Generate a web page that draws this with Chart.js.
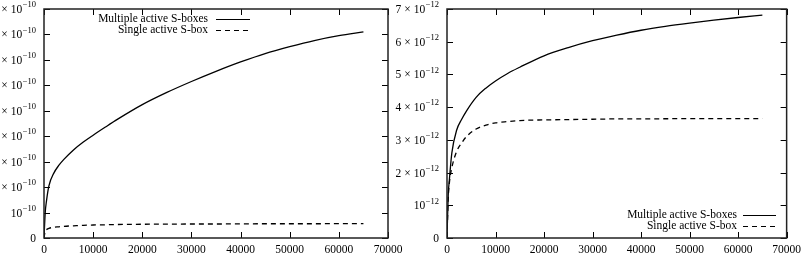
<!DOCTYPE html>
<html><head><meta charset="utf-8">
<script src="https://cdn.jsdelivr.net/npm/chart.js@4"></script>
<style>
body{margin:0;background:#fff;width:806px;height:268px;overflow:hidden;position:relative}
#w1{position:absolute;left:0;top:0;width:420px;height:268px}
#w2{position:absolute;left:390px;top:0;width:416px;height:268px}
</style></head><body>
<div id="w1"><canvas id="c1"></canvas></div>
<div id="w2"><canvas id="c2"></canvas></div>
<script>
// ---- data ----
const xPoints = [0, 250, 500, 1000, 2000, 3000, 4000, 6000, 8000, 10000, 12500, 15000, 20000, 25000, 30000, 35000, 40000, 45000, 50000, 55000, 60000, 65000];
// left chart, units of 1e-10
const leftMultiple = [0, 1.0, 1.45, 2.05, 2.55, 2.85, 3.08, 3.46, 3.77, 4.04, 4.36, 4.67, 5.24, 5.72, 6.15, 6.55, 6.92, 7.25, 7.52, 7.76, 7.95, 8.1];
const leftSingle = [0, 0.28, 0.33, 0.38, 0.42, 0.44, 0.46, 0.48, 0.5, 0.51, 0.52, 0.53, 0.54, 0.545, 0.55, 0.55, 0.555, 0.56, 0.56, 0.56, 0.565, 0.565];
// right chart, units of 1e-12
const rightMultiple = [0, 1.3, 1.8, 2.6, 3.3, 3.62, 3.88, 4.3, 4.58, 4.8, 5.03, 5.22, 5.57, 5.82, 6.03, 6.2, 6.35, 6.47, 6.57, 6.66, 6.74, 6.81];
const rightSingle = [0, 1.2, 1.7, 2.15, 2.65, 2.9, 3.1, 3.33, 3.45, 3.52, 3.56, 3.59, 3.61, 3.62, 3.63, 3.64, 3.64, 3.645, 3.65, 3.65, 3.65, 3.65];
const seriesNames = ["Multiple active S-boxes", "Single active S-box"];
const xTicks = [0, 10000, 20000, 30000, 40000, 50000, 60000, 70000];
const leftExp = -10, leftYMax = 9;
const rightExp = -12, rightYMax = 7;

const FONT = "'Liberation Serif', 'DejaVu Serif', serif";
const FS = 11.5, SUPFS = 8.5;

function pts(xs, ys, exp){ return xs.map((x,i)=>({x:x, y:ys[i]*Math.pow(10,exp)})); }

const frame = {
  id:'frame',
  afterDraw(chart, args, o){
    const {ctx, chartArea:a, scales:{x,y}} = chart;
    ctx.save();
    ctx.strokeStyle='#000'; ctx.lineWidth=1;
    const L=6;
    ctx.beginPath();
    x.ticks.forEach(t=>{const px=Math.round(x.getPixelForValue(t.value))+0.5;
      ctx.moveTo(px,a.bottom); ctx.lineTo(px,a.bottom-L); ctx.moveTo(px,a.top); ctx.lineTo(px,a.top+L);});
    y.ticks.forEach(t=>{const py=Math.round(y.getPixelForValue(t.value))+0.5;
      ctx.moveTo(a.left,py); ctx.lineTo(a.left+L,py); ctx.moveTo(a.right,py); ctx.lineTo(a.right-L,py);});
    ctx.stroke();
    ctx.lineWidth=1.5; ctx.strokeStyle='#222';
    ctx.strokeRect(a.left,a.top,a.right-a.left,a.bottom-a.top);
    // y labels with superscript exponent
    ctx.fillStyle='#000';
    ctx.textBaseline='middle';
    y.ticks.forEach(t=>{
      const py=y.getPixelForValue(t.value);
      const n=Math.round(t.value/Math.pow(10,o.exp));
      const rx=a.left-8;
      ctx.font=FS+'px '+FONT;
      if(n===0){ctx.textAlign='right'; ctx.fillText('0',rx,py+1); return;}
      const sup='\u2212'+Math.abs(o.exp);
      ctx.font=SUPFS+'px '+FONT; const ws=ctx.measureText(sup).width;
      ctx.font=FS+'px '+FONT;
      const wTen=ctx.measureText('10').width;
      let cx=rx-ws-wTen-0.5;
      ctx.textAlign='left';
      ctx.fillText('10',cx,py+1);
      if(n>1){
        const wt=ctx.measureText('\u00d7').width;
        cx-=3+wt; ctx.fillText('\u00d7',cx,py+1);
        const wn=ctx.measureText(String(n)).width;
        cx-=3+wn; ctx.fillText(String(n),cx,py+1);
      }
      ctx.font=SUPFS+'px '+FONT;
      ctx.fillText(sup,rx-ws,py-4);
    });
    // legend
    const lg=o.legend;
    chart.data.datasets.forEach((ds,i)=>{
      const ly=lg.y0+i*lg.dy;
      ctx.font=FS+'px '+FONT; ctx.textAlign='right'; ctx.textBaseline='middle';
      ctx.fillText(ds.label,lg.textRight,ly);
      ctx.beginPath(); ctx.lineWidth=1.2; ctx.strokeStyle='#000';
      ctx.setLineDash(ds.borderDash||[]);
      ctx.moveTo(lg.lineStart,Math.round(ly)+0.5); ctx.lineTo(lg.lineEnd,Math.round(ly)+0.5); ctx.stroke();
      ctx.setLineDash([]);
    });
    ctx.restore();
  }
};

function makeChart(id, multi, single, exp, ymax, yAxisWidth, padRight, legend){
  return new Chart(document.getElementById(id), {
    type:'line',
    data:{datasets:[
      {label:seriesNames[0], data:pts(xPoints,multi,exp), borderColor:'#000', borderWidth:1.3, pointRadius:0, cubicInterpolationMode:'monotone', fill:false},
      {label:seriesNames[1], data:pts(xPoints,single,exp), borderColor:'#000', borderWidth:1.3, borderDash:[5,4], pointRadius:0, cubicInterpolationMode:'monotone', fill:false}
    ]},
    options:{
      responsive:true, maintainAspectRatio:false, animation:false,
      layout:{padding:{left:0,right:padRight,top:9,bottom:0}},
      plugins:{legend:{display:false}, tooltip:{enabled:false}, frame:{exp:exp, legend:legend}},
      scales:{
        x:{type:'linear', min:0, max:70000,
          afterBuildTicks:(s)=>{s.ticks=xTicks.map(v=>({value:v}));},
          afterFit:(s)=>{s.height=30;},
          grid:{display:false, drawTicks:false}, border:{display:false},
          ticks:{color:'#000', font:{family:FONT, size:FS}, padding:5, maxRotation:0, autoSkip:false, callback:(v)=>String(v)}},
        y:{type:'linear', min:0, max:ymax*Math.pow(10,exp),
          afterBuildTicks:(s)=>{const t=[]; for(let i=0;i<=ymax;i++) t.push({value:i*Math.pow(10,exp)}); s.ticks=t;},
          afterFit:(s)=>{s.width=yAxisWidth;},
          grid:{display:false, drawTicks:false}, border:{display:false},
          ticks:{display:false}}
      }
    },
    plugins:[frame]
  });
}

makeChart('c1', leftMultiple, leftSingle, leftExp, leftYMax, 44, 32, {textRight:208, lineStart:216, lineEnd:250, y0:19, dy:11});
makeChart('c2', rightMultiple, rightSingle, rightExp, rightYMax, 57, 18, {textRight:347, lineStart:353, lineEnd:386, y0:215, dy:10.5});
</script>
</body></html>
